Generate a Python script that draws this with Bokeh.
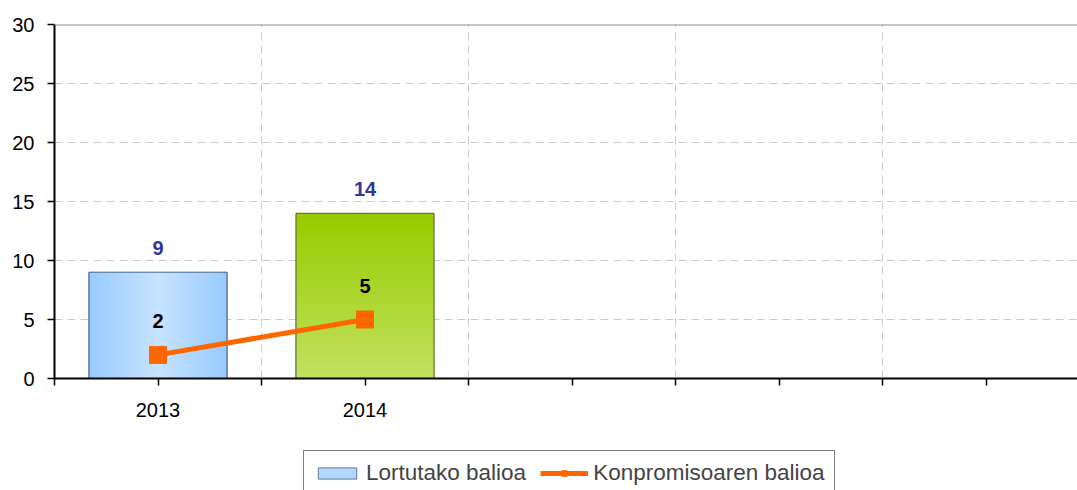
from bokeh.plotting import figure
from bokeh.layouts import column
from bokeh.models import (Range1d, FixedTicker, CustomJSTickFormatter, Span,
                          Legend, LegendItem)
from bokeh.core.properties import value
from bokeh.embed import file_html
from bokeh.resources import INLINE

# ---- data ----
years = ["2013", "2014"]
achieved = [9, 14]          # Lortutako balioa
commitment = [2, 5]         # Konpromisoaren balioa
n_slots = 5                 # category slots on the x axis
y_ticks = [0, 5, 10, 15, 20, 25, 30]
legend_labels = ["Lortutako balioa", "Konpromisoaren balioa"]

# ---- style ----
FONT = "Liberation Sans"
W = 1077
H_MAIN, H_LEG = 440, 50
LEFT, TOP, BOTTOM = 54, 24, 62
CAT_PX = 207.0
BAR_W = 0.667

BLUE_EDGE, BLUE_MID, BLUE_LINE = "#99cbfd", "#c6e3ff", "#5c7896"
GREEN_TOP, GREEN_BOT, GREEN_LINE = "#99cc00", "#c0e05e", "#4f5a35"
ORANGE = "#ff6600"


def lerp(c1, c2, t):
    a = [int(c1[j:j + 2], 16) for j in (1, 3, 5)]
    b = [int(c2[j:j + 2], 16) for j in (1, 3, 5)]
    return "#%02x%02x%02x" % tuple(round(a[j] + (b[j] - a[j]) * t) for j in range(3))


frame_w = W - LEFT
p = figure(width=W, height=H_MAIN, output_backend="svg", toolbar_location=None,
           x_range=Range1d(0, frame_w / CAT_PX), y_range=Range1d(0, 30),
           min_border_left=LEFT, min_border_right=0, min_border_top=TOP,
           min_border_bottom=BOTTOM)
p.outline_line_color = None
p.background_fill_color = "white"
p.border_fill_color = "white"

xs = [i + 0.5 for i in range(len(years))]

# ---- bar 0 : blue, horizontal gradient ----
N = 20
p.vbar(x=[xs[0]], top=[achieved[0]], width=BAR_W,
       fill_color=BLUE_EDGE, line_color=BLUE_LINE, line_width=1)
for k in range(1, N):
    t = k / (N - 1)
    p.vbar(x=[xs[0]], top=[achieved[0]], width=BAR_W * (1 - k / N),
           fill_color=lerp(BLUE_EDGE, BLUE_MID, t), line_color=None)
p.vbar(x=[xs[0]], top=[achieved[0]], width=BAR_W, fill_color=None,
       line_color=BLUE_LINE, line_width=1)

# ---- bar 1 : green, vertical gradient ----
for k in range(N):
    t = k / (N - 1)
    p.vbar(x=[xs[1]], top=[achieved[1] * (1 - k / N)], width=BAR_W,
           fill_color=lerp(GREEN_TOP, GREEN_BOT, t), line_color=None)
p.vbar(x=[xs[1]], top=[achieved[1]], width=BAR_W, fill_color=None,
       line_color=GREEN_LINE, line_width=1)

# ---- commitment line ----
p.line(xs, commitment, line_color=ORANGE, line_width=5)
p.scatter(xs, commitment, marker="square", size=17,
          fill_color=ORANGE, line_color=ORANGE)

# ---- value labels ----
p.text(x=xs, y=achieved, text=[str(v) for v in achieved], text_align="center",
       text_baseline="alphabetic", y_offset=-24, text_font=value(FONT),
       text_font_style="bold", text_font_size="20px", text_color="#333399")
p.text(x=xs, y=commitment, text=[str(v) for v in commitment], text_align="center",
       text_baseline="alphabetic", y_offset=-34, text_font=value(FONT),
       text_font_style="bold", text_font_size="20px", text_color="black")

# ---- top border ----
p.add_layout(Span(location=30, dimension="width", line_color="#888888", line_width=2))

# ---- axes ----
p.yaxis.ticker = FixedTicker(ticks=y_ticks)
p.xaxis.ticker = FixedTicker(ticks=[i * 0.5 for i in range(2 * n_slots)])
p.xaxis.formatter = CustomJSTickFormatter(args=dict(labels=years), code="""
    const i = Math.floor(tick);
    if (Math.abs(tick - i - 0.5) < 1e-6 && i < labels.length) return labels[i];
    return "";
""")
for ax in (p.xaxis[0], p.yaxis[0]):
    ax.axis_line_color = "black"
    ax.axis_line_width = 2
    ax.major_tick_line_color = "black"
    ax.major_tick_line_width = 1.5
    ax.major_tick_out = 7
    ax.major_tick_in = 0
    ax.minor_tick_out = 0
    ax.minor_tick_in = 0
    ax.major_label_text_font = FONT
    ax.major_label_text_font_size = "20px"
    ax.major_label_text_color = "black"
p.yaxis.major_label_standoff = 13
p.xaxis.major_label_standoff = 17

# ---- grids ----
p.xgrid.ticker = FixedTicker(ticks=list(range(1, n_slots)))
p.ygrid.ticker = FixedTicker(ticks=y_ticks[1:-1])
for g in (p.xgrid[0], p.ygrid[0]):
    g.grid_line_color = "#cccccc"
    g.grid_line_dash = "8 5"
    g.grid_line_width = 1

# ---- legend strip (separate small figure below the chart) ----
lf = figure(width=W, height=H_LEG, output_backend="svg", toolbar_location=None,
            x_range=Range1d(0, 1), y_range=Range1d(0, 1),
            x_axis_type=None, y_axis_type=None,
            min_border_left=LEFT, min_border_top=0, min_border_right=0,
            min_border_bottom=0)
lf.outline_line_color = None
lf.grid.visible = False
lf.background_fill_color = "white"
lf.border_fill_color = "white"
# swatch renderers kept fully outside the visible range
sw_bar = lf.vbar(x=[-10], bottom=[-10], top=[-9], width=0.1, fill_color="#b3d7fe",
                 line_color=BLUE_LINE, line_width=1)
sw_line = lf.line([-10, -9], [-10, -10], line_color=ORANGE, line_width=5)
sw_mark = lf.scatter([-10], [-10], marker="square", size=16,
                     fill_color=ORANGE, line_color=ORANGE)
legend = Legend(items=[LegendItem(label=legend_labels[0], renderers=[sw_bar]),
                       LegendItem(label=legend_labels[1], renderers=[sw_line, sw_mark])],
                orientation="horizontal", location=(303 - LEFT, -6),
                glyph_width=48, glyph_height=14, label_text_font=FONT,
                label_text_font_size="22.5px", label_standoff=5, spacing=14,
                padding=9, border_line_color="black", border_line_width=1,
                background_fill_color="white", background_fill_alpha=1, margin=0)
lf.add_layout(legend, "center")

layout = column(p, lf, spacing=0)
open("out.html", "w").write(file_html(layout, INLINE))
